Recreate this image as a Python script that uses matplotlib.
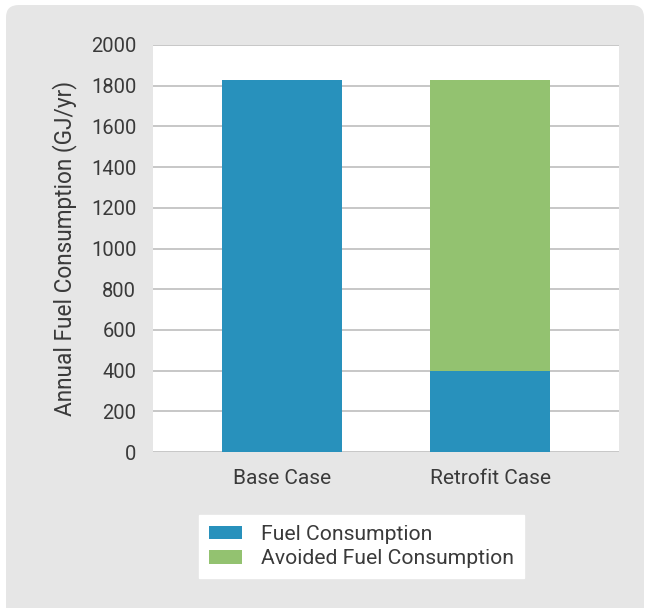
import matplotlib
matplotlib.use("Agg")
import matplotlib.pyplot as plt
from matplotlib.patches import FancyBboxPatch

categories = ["Base Case", "Retrofit Case"]
fuel_consumption = [1830, 400]
avoided_fuel = [0, 1430]
series_labels = ["Fuel Consumption", "Avoided Fuel Consumption"]
yticks = [0, 200, 400, 600, 800, 1000, 1200, 1400, 1600, 1800, 2000]

blue = "#2891BC"
green = "#93C270"
text_color = "#3a3a3a"

plt.rcParams['font.family'] = ['Roboto', 'DejaVu Sans']

fig = plt.figure(figsize=(6.45, 6.08), dpi=100)
fig.patch.set_facecolor("white")

# grey rounded panel
panel = FancyBboxPatch((6 / 645, -0.05), (644 - 6) / 645, (608 - 5) / 608 + 0.05,
                       boxstyle="round,pad=0,rounding_size=0.02",
                       transform=fig.transFigure, facecolor="#e6e6e6",
                       edgecolor="none", zorder=-10)
fig.patches.append(panel)

ax = fig.add_axes([153 / 645, 1 - 452 / 608, (619 - 153) / 645, (452 - 45) / 608])
ax.set_zorder(1)
ax.set_facecolor("white")

x = list(range(len(categories)))
width = 0.577
ax.bar(x, fuel_consumption, width=width, color=blue, label=series_labels[0], zorder=3)
ax.bar(x, avoided_fuel, width=width, bottom=fuel_consumption, color=green,
       label=series_labels[1], zorder=3)

ax.set_xlim(-0.62, 1.62)
ax.set_ylim(0, 2000)
ax.set_yticks(yticks)
ax.set_xticks(x)
ax.set_xticklabels(categories)
ax.yaxis.grid(True, color="#bdbdbd", linewidth=1.2, zorder=1)
ax.set_axisbelow(True)
for s in ax.spines.values():
    s.set_visible(False)
ax.tick_params(axis="both", length=0, colors=text_color)
ax.tick_params(axis="y", pad=12, labelsize=14.5)
ax.tick_params(axis="x", pad=12, labelsize=15)
ax.set_ylabel("Annual Fuel Consumption (GJ/yr)", fontsize=16.3, color=text_color, labelpad=10)

leg = fig.legend(loc="center", bbox_to_anchor=(361.5 / 645, 1 - 546.5 / 608),
                 fontsize=15.2, frameon=True, fancybox=False, framealpha=1,
                 handlelength=1.6, handleheight=0.58, handletextpad=0.9,
                 labelspacing=0.28, borderpad=0.45, borderaxespad=0)
leg.set_zorder(5)
leg.get_frame().set_edgecolor("white")
leg.get_frame().set_facecolor("white")
for t in leg.get_texts():
    t.set_color(text_color)

fig.savefig("out.png", dpi=100, facecolor=fig.get_facecolor())
